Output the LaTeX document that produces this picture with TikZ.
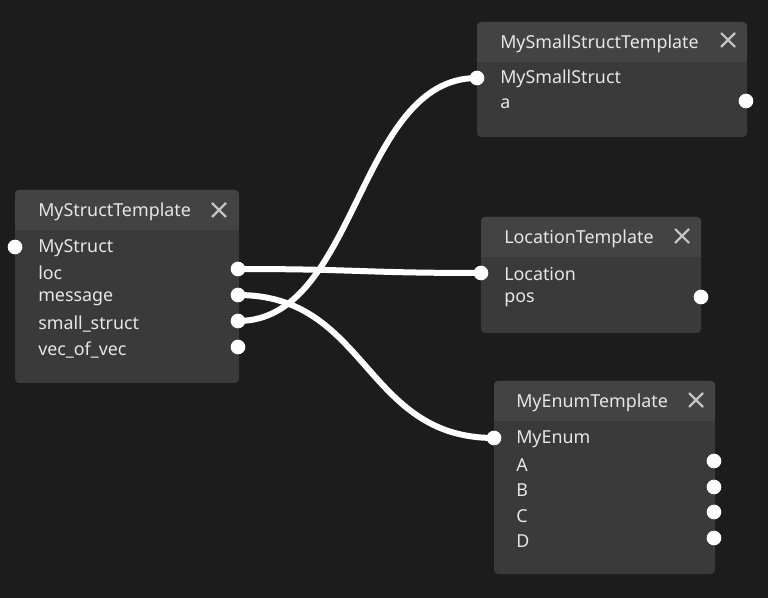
\documentclass[tikz,border=0pt]{standalone}
\usepackage{fontspec}
\setmainfont{Noto Sans}
\usetikzlibrary{positioning}
\definecolor{bg}{HTML}{1C1C1C}
\definecolor{body}{HTML}{3A3A3A}
\definecolor{head}{HTML}{434343}
\definecolor{txt}{HTML}{E6E6E6}
\tikzset{port/.style={circle, fill=white, minimum size=11pt, inner sep=0pt}}
\tikzset{lbl/.style={anchor=west, inner sep=0pt, text=txt, font=\fontsize{13.4}{15}\selectfont}}
\tikzset{wire/.style={white, line width=4.5pt}}
\tikzset{xmark/.style={draw=txt!85!black, line width=1.6pt}}
% template box: #1 left, #2 top, #3 right, #4 bottom, #5 header bottom
\newcommand{\tmplbox}[5]{%
  \fill[body, rounded corners=3] (#1,#2) rectangle (#3,#4);
  \fill[head, rounded corners=3] (#1,#2) rectangle (#3,#5);
  \fill[head] (#1,#5-4) rectangle (#3,#5);
}
\newcommand{\closex}[2]{\draw[xmark] (#1-7,#2-7) -- (#1+7,#2+7) (#1-7,#2+7) -- (#1+7,#2-7);}
\begin{document}
\begin{tikzpicture}[x=0.75pt, y=-0.75pt]
\fill[bg] (0,0) rectangle (768,598);
\useasboundingbox (0,0) rectangle (768,598);

% MyStructTemplate
\tmplbox{15}{190}{239}{383}{230}
\node[lbl] (st) at (38,212) {MyStructTemplate};
\closex{219}{210}
\node[lbl] (st1) at (38,248) {MyStruct};
\node[lbl] (st2) at (38,273) {loc};
\node[lbl] (st3) at (38,299) {message};
\node[lbl] (st4) at (38,324) {small\_struct};
\node[lbl] (st5) at (38,350) {vec\_of\_vec};
\node[port] (stin) at (15,247) {};
\node[port] (stloc) at (238,269) {};
\node[port] (stmsg) at (238,295) {};
\node[port] (stsml) at (238,321) {};
\node[port] (stvec) at (238,347) {};

% MySmallStructTemplate
\tmplbox{477}{22}{747}{137}{62}
\node[lbl] (ss) at (500,44) {MySmallStructTemplate};
\closex{728}{40}
\node[lbl] (ss1) at (500,79) {MySmallStruct};
\node[lbl] (ss2) at (500,104) {a};
\node[port] (ssin) at (477,78) {};
\node[port] (ssa) at (746,101) {};

% LocationTemplate
\tmplbox{481}{217}{701}{333}{257}
\node[lbl] (lt) at (504,239) {LocationTemplate};
\closex{682}{236}
\node[lbl] (lt1) at (504,274) {Location};
\node[lbl] (lt2) at (504,300) {pos};
\node[port] (ltin) at (481,273) {};
\node[port] (ltpos) at (701,297) {};

% MyEnumTemplate
\tmplbox{494}{381}{715}{574}{421}
\node[lbl] (et) at (516,403) {MyEnumTemplate};
\closex{696}{400}
\node[lbl] (et1) at (516,439) {MyEnum};
\node[lbl] (et2) at (516,465) {A};
\node[lbl] (et3) at (516,490) {B};
\node[lbl] (et4) at (516,516) {C};
\node[lbl] (et5) at (516,541) {D};
\node[port] (etin) at (494,438) {};
\node[port] (eta) at (714,461) {};
\node[port] (etb) at (714,487) {};
\node[port] (etc) at (714,512) {};
\node[port] (etd) at (714,538) {};

% wires
\draw[wire] (stloc.center) .. controls +(120,0) and +(-120,0) .. (ltin.center);
\draw[wire] (stmsg.center) .. controls +(130,0) and +(-130,0) .. (etin.center);
\draw[wire] (stsml.center) .. controls +(120,0) and +(-120,0) .. (ssin.center);
\end{tikzpicture}
\end{document}
